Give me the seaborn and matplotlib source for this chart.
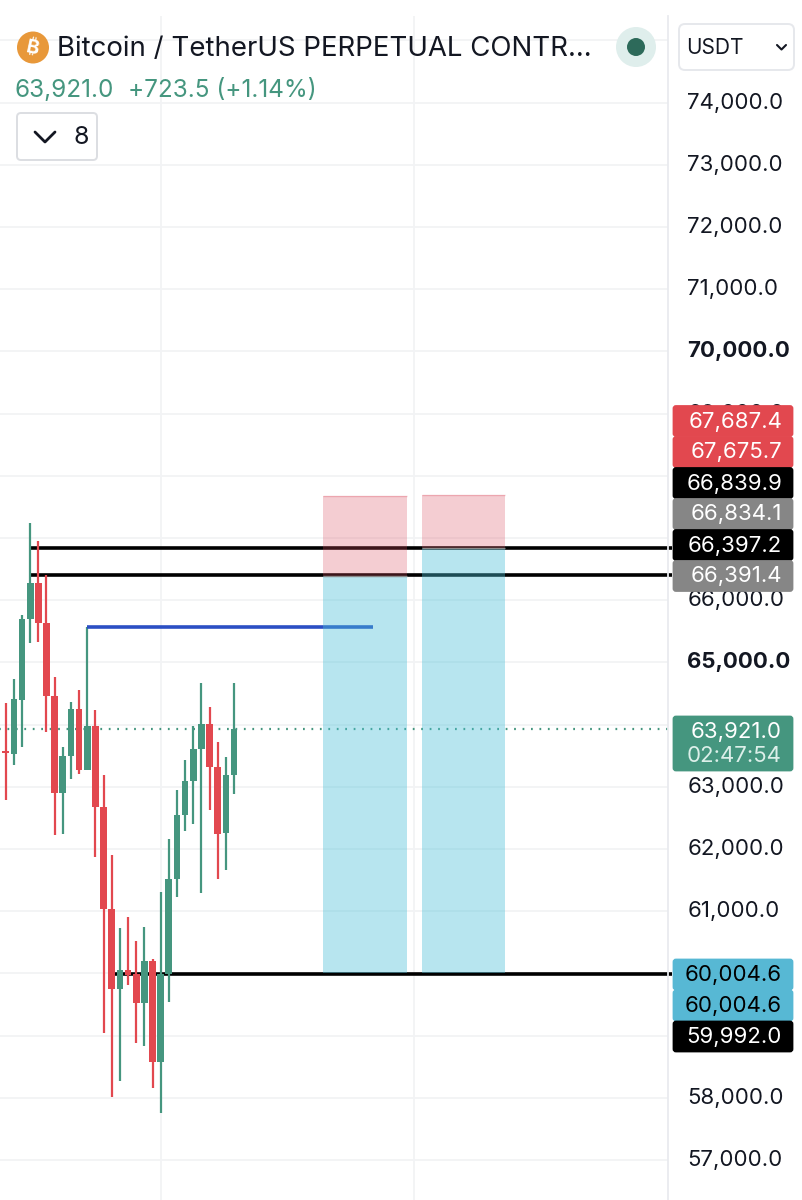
import matplotlib
matplotlib.use("Agg")
import matplotlib.pyplot as plt
import numpy as np
import pandas as pd
import seaborn as sns
from matplotlib.patches import Circle, FancyBboxPatch, Rectangle
from matplotlib.transforms import Affine2D

# Hourly-style candles, oldest first
opens = [63579, 63526, 64394, 65696, 66280, 65636, 64458, 62904, 63494, 64254, 63269, 63976, 62679,
         61034, 59748, 60053, 59989, 59528, 60203, 58579, 59989, 61521, 62545, 63097, 63606, 64008,
         63317, 62256, 63188]
highs = [64351, 64732, 65761, 67244, 66955, 66404, 64764, 63638, 64362, 64555, 65563, 64233, 63188,
         61907, 60728, 60910, 60524, 60745, 60230, 61307, 62164, 62947, 63429, 63976, 64672, 64286,
         63724, 63478, 64672]
lows = [62786, 63349, 63638, 65310, 65326, 63884, 62224, 62240, 63129, 63204, 63269, 61870, 59045,
        58016, 58274, 59812, 58880, 58831, 58156, 57754, 59544, 61227, 62293, 62400, 61291, 62625,
        61516, 61661, 62883]
closes = [63537, 64410, 65696, 66280, 65632, 64458, 62904, 63494, 64254, 63269, 63976, 62679, 61034,
          59748, 60053, 59973, 59528, 60203, 58579, 59989, 61521, 62545, 63097, 63606, 64008, 63317,
          62240, 63188, 63921]

price_ticks = list(range(57000, 76000, 1000))
bold_ticks = [65000, 70000]
covered_ticks = [59000, 60000, 64000, 67000, 68000, 75000]
time_grid = [19, 50]

last_price = 63921.0
swing_high = 65563
swing_range = (10, 45)
level_prices = [66839.9, 66397.2, 59992.0]
level_starts = [2.85, 2.85, 13.3]
line_end = 81.7

# Two long-position drawings: start, end, stop, entry, target
pos_start = [38.9, 51.0]
pos_end = [49.2, 61.2]
pos_stop = [67675.7, 67687.4]
pos_entry = [66391.4, 66834.1]
pos_target = [60004.6, 60004.6]

badge_text = ["67,687.4", "67,675.7", "66,839.9", "66,834.1", "66,397.2", "66,391.4",
              "60,004.6", "60,004.6", "59,992.0"]
badge_fill = ["#e2484f", "#e2484f", "#000000", "#868686", "#000000", "#868686",
              "#57b8d4", "#57b8d4", "#000000"]
badge_ink = ["white", "white", "white", "white", "white", "white", "black", "black", "white"]
badge_top = [405.5, 436.5, 467.5, 498.5, 529.5, 560.5, 959, 990, 1021]

UP = "#45967f"
DOWN = "#e2484f"
GRID = "#f2f3f5"
FONT = "Inter"
INK = "#131722"

sns.set_theme(style="white")
plt.rcParams["font.family"] = [FONT, "DejaVu Sans"]

fig = plt.figure(figsize=(8.02, 12), dpi=100, facecolor="white")
ax = fig.add_axes([0, 0, 668 / 802, 1184 / 1200])

df = pd.DataFrame({"i": np.arange(len(opens)), "o": opens, "h": highs, "l": lows, "c": closes})
df["up"] = df["c"] >= df["o"]
df["base"] = df[["o", "c"]].min(axis=1)
df["size"] = (df["c"] - df["o"]).abs()

# Candle bodies and wicks, one seaborn bar layer per direction
for is_up, colour in [(True, UP), (False, DOWN)]:
    part = df[df["up"] == is_up]
    sns.barplot(data=part, x="i", y="size", bottom=part["base"].to_numpy(), native_scale=True,
                color=colour, saturation=1, width=0.82, linewidth=0, errorbar=None,
                zorder=3, ax=ax)
    ax.vlines(part["i"], part["l"], part["h"], color=colour, lw=1.6, zorder=2.9)

for price, start in zip(level_prices, level_starts):
    ax.hlines(price, start, line_end, color="black", lw=2.6, zorder=2.5, clip_on=False)

ax.hlines(swing_high, *swing_range, color="#2b4fc4", lw=2.6, zorder=3.2)
ax.hlines(last_price, -1, line_end, color=UP, lw=1.6, linestyles=(0, (0.8, 3)), zorder=2)

for x0, x1, stop, entry, target in zip(pos_start, pos_end, pos_stop, pos_entry, pos_target):
    ax.add_patch(Rectangle((x0, entry), x1 - x0, stop - entry, facecolor="#db4c5e", alpha=0.28,
                           lw=0, zorder=4))
    ax.add_patch(Rectangle((x0, target), x1 - x0, entry - target, facecolor="#4bc0d7", alpha=0.4,
                           lw=0, zorder=4))
    ax.hlines(entry, x0, x1, color="#8a8a8a", lw=1, zorder=4.1)
    ax.hlines(stop, x0, x1, color="#db4c5e", lw=1, alpha=0.3, zorder=4.1)

ax.set_xlim(-0.7, 81.2)
ax.set_ylim(56356, 75391)
ax.set_xlabel("")
ax.set_ylabel("")
ax.set_xticks(time_grid)
ax.set_xticklabels([])
ax.set_yticks(price_ticks)
ax.set_yticklabels(["" if p in covered_ticks else f"{p:,.1f}" for p in price_ticks], fontsize=16)
ax.yaxis.tick_right()
ax.tick_params(axis="both", length=0)
ax.tick_params(axis="y", pad=14)
for label, p in zip(ax.get_yticklabels(), price_ticks):
    label.set_color(INK)
    label.set_transform(label.get_transform() + Affine2D().translate(0, 2))
    if p in bold_ticks:
        label.set_fontweight("bold")
ax.grid(True, color=GRID, lw=1.3)
ax.set_axisbelow(True)
for side in ["top", "left", "bottom"]:
    ax.spines[side].set_visible(False)
ax.spines["right"].set_color("#e9ebef")
ax.spines["right"].set_linewidth(1.3)

# Overlay in screen pixels for the header and the price badges
ui = fig.add_axes([0, 0, 1, 1], zorder=10)
ui.set_xlim(0, 802)
ui.set_ylim(1200, 0)
ui.axis("off")
ui.patch.set_alpha(0)


def badge(y0, y1, fill, lines):
    ui.add_patch(FancyBboxPatch((674, y0 + 1), 118, y1 - y0 - 2, boxstyle="round,pad=0,rounding_size=2",
                                mutation_aspect=1, facecolor=fill, edgecolor=fill, lw=2, zorder=5))
    for text, y, ink in lines:
        ui.text(782, y, text, ha="right", va="center", color=ink, fontsize=16, zorder=6)


for text, fill, ink, top in zip(badge_text, badge_fill, badge_ink, badge_top):
    badge(top, top + 31, fill, [(text, top + 16, ink)])
badge(716, 771, UP, [("63,921.0", 731.5, "white"), ("02:47:54", 755.5, "#dcefe9")])

ui.add_patch(Circle((33, 47.5), 16, facecolor="#e8983a", lw=0))
ui.text(33, 48, "₿", ha="center", va="center", color="white", fontsize=14, fontweight="bold",
        rotation=-12, family=["Inter", "Noto Sans", "Roboto", "Open Sans", "Lato", "DejaVu Sans"])
ui.text(57, 49, "Bitcoin / TetherUS PERPETUAL CONTR...", ha="left", va="center", color=INK,
        fontsize=19.9)
ui.text(15, 90.5, "63,921.0", ha="left", va="center", color=UP, fontsize=17.5)
ui.text(128, 90.5, "+723.5 (+1.14%)", ha="left", va="center", color=UP, fontsize=17.5)

ui.add_patch(Circle((636, 47), 20, facecolor="#dfeeec", lw=0))
ui.add_patch(Circle((636, 47), 9, facecolor="#2d6a5a", lw=0))

ui.add_patch(FancyBboxPatch((679, 24), 115, 46, boxstyle="round,pad=0,rounding_size=6",
                            facecolor="white", edgecolor="#e6e8ec", lw=1.4))
ui.text(686, 48.5, "USDT", ha="left", va="center", color=INK, fontsize=15)
ui.plot([777, 781.5, 786], [45, 49.5, 45], color=INK, lw=1.5)

ui.add_patch(FancyBboxPatch((17, 113), 80, 47, boxstyle="round,pad=0,rounding_size=4",
                            facecolor="white", edgecolor="#dcdee2", lw=1.4))
ui.plot([35, 45, 55], [132, 142, 132], color=INK, lw=2)
ui.text(81, 138, "8", ha="center", va="center", color=INK, fontsize=18)

fig.savefig("out.png", dpi=100)
